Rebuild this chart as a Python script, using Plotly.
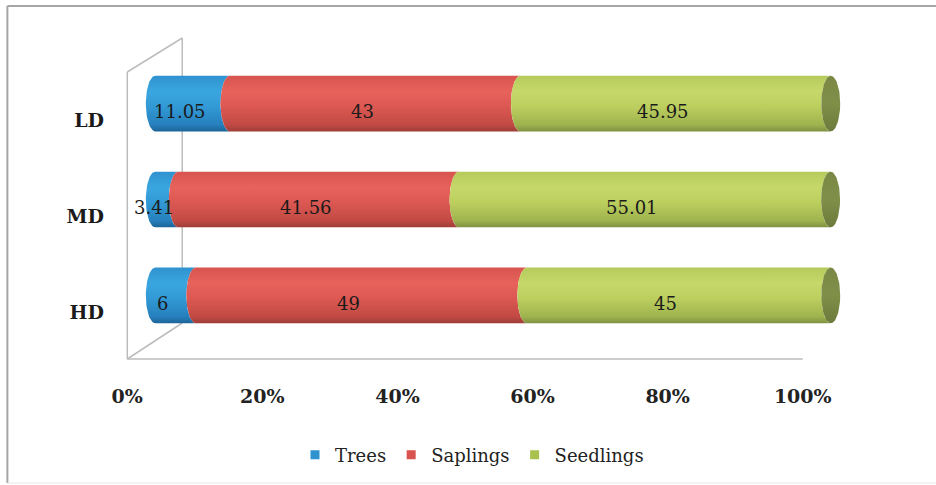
import numpy as np
import plotly.graph_objects as go

# ---------------- data ----------------
categories = ["HD", "MD", "LD"]
trees = [6, 3.41, 11.05]
saplings = [49, 41.56, 43]
seedlings = [45, 55.01, 45.95]
series_names = ["Trees", "Saplings", "Seedlings"]
tick_vals = [0, 20, 40, 60, 80, 100]
tick_text = ["0%", "20%", "40%", "60%", "80%", "100%"]

series = [trees, saplings, seedlings]

# ---------------- layout geometry ----------------
W, Hpx = 936, 485
XMIN, XMAX = -3, 103
SCALE = 6.76                      # px per percent
ML = 155 + XMIN * SCALE
MR = W - (155 + XMAX * SCALE)
MT, MB = 46, 132
PW = W - ML - MR
PH = Hpx - MT - MB
YMIN, YMAX = -0.6, 2.6

colorscales = [
    [[0, "#1c6498"], [0.12, "#2680bd"], [0.45, "#329ad6"], [0.72, "#3aa6e0"], [1, "#2f92cf"]],
    [[0, "#9e3d38"], [0.12, "#c24a44"], [0.45, "#dd5852"], [0.72, "#e6625b"], [1, "#d8544e"]],
    [[0, "#7f9140"], [0.12, "#9fb34f"], [0.45, "#bccf5e"], [0.72, "#c6d86a"], [1, "#b6ca5c"]],
]
legend_colors = ["#2f93cf", "#d9534f", "#a9c14f"]
face_color = "#7d8b47"
serif = "DejaVu Serif, Liberation Serif, serif"

R = 1.4    # end-ellipse x radius in data units
HH = 0.29  # half bar height in data units
t = np.linspace(np.pi / 2, 3 * np.pi / 2, 40)

fig = go.Figure()
annotations = []

for i, cat in enumerate(categories):
    start = 0.0
    for s, vals in enumerate(series):
        v = vals[i]
        end = start + v
        xl = start + R * np.cos(t)
        yl = i + HH * np.sin(t)
        xr = end + R * np.cos(t[::-1])
        yr = i + HH * np.sin(t[::-1])
        xs = np.concatenate([xl, xr, xl[:1]])
        ys = np.concatenate([yl, yr, yl[:1]])
        fig.add_trace(go.Scatter(
            x=xs, y=ys, mode="lines", fill="toself",
            line=dict(width=0), fillcolor=legend_colors[s],
            fillgradient=dict(type="vertical", colorscale=colorscales[s]),
            showlegend=False, hoverinfo="skip",
        ))
        annotations.append(dict(
            x=start + v / 2, y=i, xref="x", yref="y", text=f"{v:g}",
            showarrow=False, xshift=-13, yshift=-8,
            font=dict(family=serif, size=18, color="#1a1a1a"),
        ))
        start = end
    # end face
    tf = np.linspace(0, 2 * np.pi, 80)
    fig.add_trace(go.Scatter(
        x=start + R * np.cos(tf), y=i + HH * np.sin(tf), mode="lines", fill="toself",
        line=dict(width=0), fillcolor=face_color,
        fillgradient=dict(type="vertical", colorscale=[[0, "#6d7a3c"], [0.5, "#808f48"], [1, "#7a8845"]]),
        showlegend=False, hoverinfo="skip",
    ))

# legend entries
for s, name in enumerate(series_names):
    fig.add_trace(go.Scatter(
        x=[None], y=[None], mode="markers", name=name,
        marker=dict(symbol="square", size=9, color=legend_colors[s]),
    ))

# ---------------- wall / frame decoration (paper coords from pixels) ----------------
def px(x):
    return (x - ML) / PW

def py(y):
    return (Hpx - MB - y) / PH

wall_color = "#bdbdbd"
segs = [
    ((127, 72), (182, 38)),
    ((182, 38), (182, 323)),
    ((127, 72), (127, 359)),
    ((127, 359), (182, 323)),
    ((127, 359), (803, 359)),
]
shapes = []
for (x0, y0), (x1, y1) in segs:
    shapes.append(dict(type="line", xref="paper", yref="paper",
                       x0=px(x0), y0=py(y0), x1=px(x1), y1=py(y1),
                       line=dict(color=wall_color, width=1.5), layer="below"))
# outer frame
shapes.append(dict(type="line", xref="paper", yref="paper",
                   x0=px(7), y0=py(6), x1=px(940), y1=py(6),
                   line=dict(color="#a6a6a6", width=2), layer="below"))
shapes.append(dict(type="line", xref="paper", yref="paper",
                   x0=px(7), y0=py(6), x1=px(7), y1=py(483),
                   line=dict(color="#a6a6a6", width=2), layer="below"))
shapes.append(dict(type="line", xref="paper", yref="paper",
                   x0=px(7), y0=py(483), x1=px(940), y1=py(483),
                   line=dict(color="#e6e6e6", width=1), layer="below"))

fig.update_layout(
    width=W, height=Hpx,
    margin=dict(l=ML, r=MR, t=MT, b=MB),
    paper_bgcolor="white", plot_bgcolor="rgba(0,0,0,0)",
    xaxis=dict(range=[XMIN, XMAX], tickvals=tick_vals, ticktext=tick_text,
               showgrid=False, zeroline=False, showline=False, ticks="",
               ticklabelshift=-28, ticklabelstandoff=30,
               tickfont=dict(family=serif, size=19, color="#222222", weight="bold"),
               fixedrange=True),
    yaxis=dict(range=[YMIN, YMAX], tickvals=[0, 1, 2], ticktext=categories,
               showgrid=False, zeroline=False, showline=False, ticks="",
               ticklabelshift=17, ticklabelstandoff=30,
               tickfont=dict(family=serif, size=19, color="#1a1a1a", weight="bold"),
               fixedrange=True),
    showlegend=True,
    legend=dict(orientation="h", xref="container", yref="container",
                x=472 / W, y=(Hpx - 455) / Hpx, xanchor="center", yanchor="middle",
                font=dict(family=serif, size=18, color="#222222"),
                itemwidth=30, tracegroupgap=0),
    annotations=annotations,
    shapes=shapes,
)

fig.write_html("out.html")
